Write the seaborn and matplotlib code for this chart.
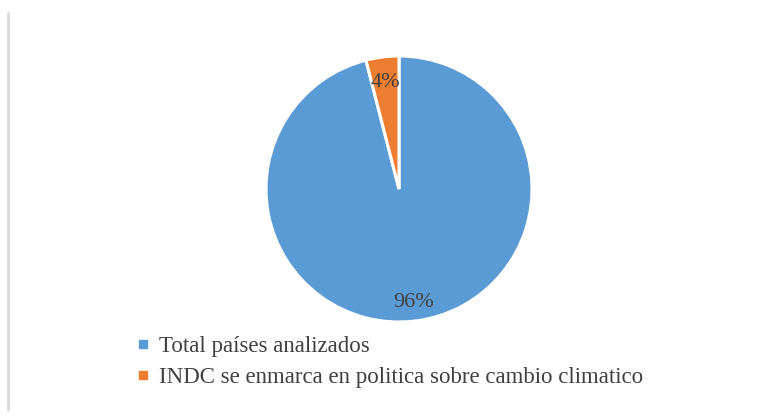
import matplotlib
matplotlib.use("Agg")
import matplotlib.pyplot as plt
import seaborn as sns
import numpy as np
from matplotlib.lines import Line2D

categories = ["Total países analizados", "INDC se enmarca en politica sobre cambio climatico"]
values = [96, 4]
pct_labels = ["96%", "4%"]
colors = ["#5B9BD5", "#ED7D31"]

sns.set_theme(style="white")
plt.rcParams['font.family'] = ['Liberation Serif', 'DejaVu Serif']

W, H = 781, 418
fig = plt.figure(figsize=(W / 100, H / 100), dpi=100)
fig.patch.set_facecolor("white")

cx, cy, r = 399, 189, 133
ax = fig.add_axes([(cx - r) / W, (H - cy - r) / H, 2 * r / W, 2 * r / H])
wedges, texts = ax.pie(values, colors=colors, startangle=90, counterclock=False,
                       radius=1, wedgeprops=dict(edgecolor="white", linewidth=2.2))
ax.set_xlim(-1, 1)
ax.set_ylim(-1, 1)
ax.set_aspect("auto")
ax.axis("off")

cum = 0
total = sum(values)
for v, lab, d in zip(values, pct_labels, [0.86, 0.81]):
    mid = 90 - 360 * (cum + v / 2) / total
    cum += v
    ax.text(d * np.cos(np.radians(mid)), d * np.sin(np.radians(mid)), lab,
            ha="center", va="center", fontsize=16, color="#404040")

# left border line
fig.add_artist(Line2D([8 / W, 8 / W], [1 - 13 / H, 1 - 410 / H], color="#d9d9d9", lw=2,
                      transform=fig.transFigure))

handles = [Line2D([0], [0], marker="s", linestyle="none", markersize=5.5,
                  markerfacecolor=c, markeredgecolor=c) for c in colors]
fig.legend(handles, categories, loc="upper left", bbox_to_anchor=(135 / W, 1 - 336 / H),
           frameon=False, fontsize=16.5, labelcolor="#404040", handletextpad=0.35,
           handlelength=0.7, labelspacing=0.42, borderpad=0, borderaxespad=0)

fig.savefig("out.png", dpi=100, facecolor="white")
